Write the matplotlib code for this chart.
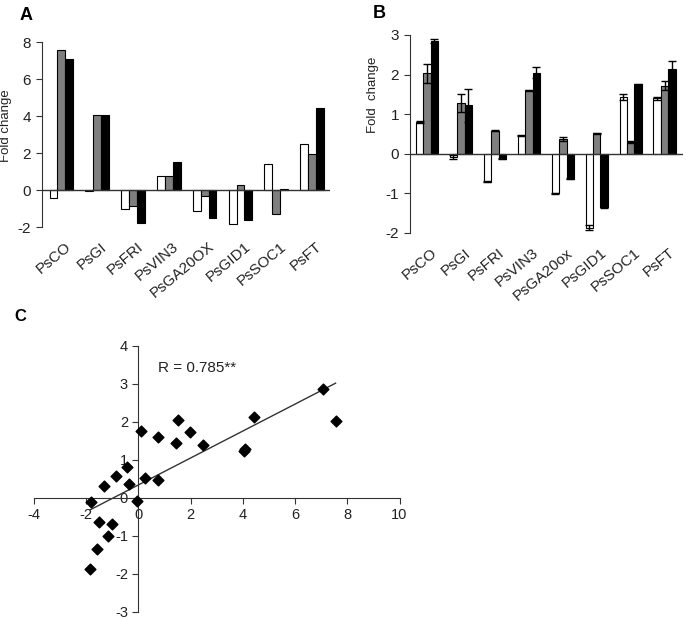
import numpy as np
import matplotlib
matplotlib.use("Agg")
import matplotlib.pyplot as plt

plt.rcParams['font.family'] = ['Liberation Sans', 'DejaVu Sans']
plt.rcParams['axes.unicode_minus'] = False

genes_a = ["PsCO", "PsGI", "PsFRI", "PsVIN3", "PsGA20OX", "PsGID1", "PsSOC1", "PsFT"]
genes_b = ["PsCO", "PsGI", "PsFRI", "PsVIN3", "PsGA20ox", "PsGID1", "PsSOC1", "PsFT"]

# Panel A values (white, gray, black series)
a_white = [-0.45, -0.05, -1.0, 0.75, -1.15, -1.85, 1.42, 2.48]
a_gray = [7.55, 4.07, -0.85, 0.75, -0.35, 0.25, -1.3, 1.97]
a_black = [7.07, 4.03, -1.8, 1.5, -1.5, -1.6, 0.08, 4.42]

# Panel B values and errors
b_white = [0.8, -0.08, -0.7, 0.46, -1.0, -1.87, 1.43, 1.4]
b_gray = [2.03, 1.28, 0.58, 1.6, 0.37, 0.52, 0.3, 1.72]
b_black = [2.85, 1.22, -0.12, 2.05, -0.63, -1.35, 1.75, 2.13]
b_white_err = [0.02, 0.06, 0.01, 0.01, 0.01, 0.06, 0.08, 0.03]
b_gray_err = [0.23, 0.23, 0.01, 0.02, 0.05, 0.01, 0.03, 0.12]
b_black_err = [0.04, 0.42, 0.01, 0.13, 0.01, 0.01, 0.02, 0.22]

r_text = "R = 0.785**"

W, H = 686, 620
fig = plt.figure(figsize=(W / 100, H / 100), dpi=100)

def ax_rect(l, t, r, b):
    return [l / W, 1 - b / H, (r - l) / W, (b - t) / H]

colors = ["white", "#7f7f7f", "black"]
bw = 0.22

def bar_panel(ax, genes, series, errs=None):
    x = np.arange(len(genes))
    for i, (vals, c) in enumerate(zip(series, colors)):
        pos = x + (i - 1) * bw
        ax.bar(pos, vals, width=bw, color=c, edgecolor="black", linewidth=0.8, zorder=2)
        if errs is not None:
            ax.errorbar(pos, vals, yerr=errs[i], fmt="none", ecolor="black",
                        elinewidth=1.0, capsize=3, capthick=1.0, zorder=3)
    ax.axhline(0, color="#333333", linewidth=1.0, zorder=4)
    for s in ["top", "right", "bottom"]:
        ax.spines[s].set_visible(False)
    ax.spines["left"].set_color("#333333")
    ax.set_xticks(x + 0.1)
    ax.set_xticklabels(genes, rotation=40, ha="right", rotation_mode="anchor",
                       fontsize=11, color="#222222")
    ax.tick_params(axis="x", length=0, pad=9)
    ax.tick_params(axis="y", labelsize=11, direction="out", length=4, pad=4,
                   color="#333333", labelcolor="#222222")

# Panel A
axA = fig.add_axes(ax_rect(42, 42, 330, 227))
bar_panel(axA, genes_a, [a_white, a_gray, a_black])
axA.set_xlim(-0.54, 7.5)
axA.set_ylim(-2, 8)
axA.set_yticks([-2, 0, 2, 4, 6, 8])
axA.set_ylabel("Fold change", fontsize=9.5, color="#222222")
axA.yaxis.set_label_coords(-30 / 288, 0.55)
fig.text(20 / W, 1 - 16 / H, "A", fontsize=13, fontweight="bold", va="center")

# Panel B
axB = fig.add_axes(ax_rect(410, 35, 683, 233))
bar_panel(axB, genes_b, [b_white, b_gray, b_black],
          errs=[b_white_err, b_gray_err, b_black_err])
axB.set_xlim(-0.5, 7.54)
axB.set_ylim(-2, 3)
axB.set_yticks([-2, -1, 0, 1, 2, 3])
axB.set_ylabel("Fold  change", fontsize=9.5, color="#222222")
axB.yaxis.set_label_coords(-31 / 273, 0.7)
fig.text(373 / W, 1 - 13 / H, "B", fontsize=13, fontweight="bold", va="center")

# Panel C
axC = fig.add_axes(ax_rect(34, 345.7, 399.5, 611.7))
xs = np.array(a_white + a_gray + a_black)
ys = np.array(b_white + b_gray + b_black)
axC.scatter(xs, ys, marker="D", s=30, color="black", zorder=3)
k, c0 = np.polyfit(xs, ys, 1)
lx = np.array([xs.min(), xs.max()])
axC.plot(lx, k * lx + c0, color="#333333", linewidth=1.0, zorder=2)
axC.set_xlim(-4, 10)
axC.set_ylim(-3, 4)
axC.spines["left"].set_position(("data", 0))
axC.spines["bottom"].set_position(("data", 0))
for s in ["top", "right"]:
    axC.spines[s].set_visible(False)
axC.spines["left"].set_color("#333333")
axC.spines["bottom"].set_color("#333333")
axC.set_xticks([-4, -2, 0, 2, 4, 6, 8, 10])
axC.set_yticks([-3, -2, -1, 0, 1, 2, 3, 4])
axC.tick_params(direction="out", length=4, labelsize=10.5, color="#333333",
                labelcolor="#222222")
axC.text(0.75, 3.3, r_text, fontsize=11, color="#222222")
fig.text(14 / W, 1 - 317 / H, "C", fontsize=12, fontweight="bold", va="center")

fig.savefig("out.png", dpi=100)
